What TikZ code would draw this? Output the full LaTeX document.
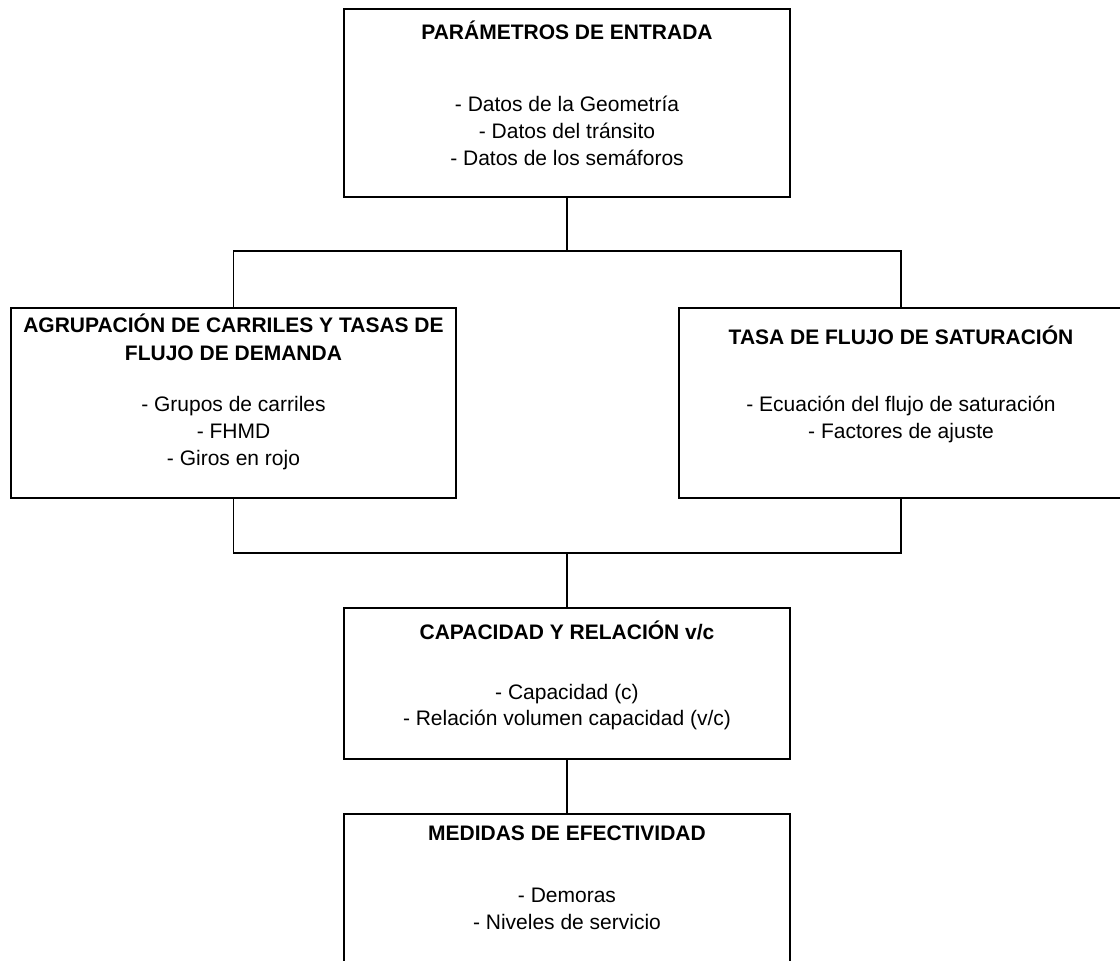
\documentclass[tikz,border=0pt]{standalone}
\usepackage{fontspec}
\setmainfont{Liberation Sans}
\newcommand{\lnstrut}{\rule{0pt}{16pt}}
\begin{document}
\begin{tikzpicture}[x=1pt,y=1pt,
  heavybox/.style={draw=black, line width=2.4pt, rectangle, inner sep=0pt},
  lightbox/.style={draw=black, line width=1.5pt, rectangle, inner sep=0pt},
  boxtitle/.style={font=\bfseries\fontsize{21}{28}\selectfont, align=center, anchor=north, inner sep=0pt},
  boxbody/.style={font=\fontsize{21}{27}\selectfont, align=center, anchor=north, inner sep=0pt},
  boxbodytight/.style={font=\fontsize{21}{26}\selectfont, align=center, anchor=north, inner sep=0pt},
  link/.style={draw=black, line width=1.4pt}]
\useasboundingbox (0,0) rectangle (1120,961);
\clip (0,0) rectangle (1120,961);

% frames
\node[heavybox, minimum width=446, minimum height=188] (entrada) at (567,858) {};
\node[lightbox, minimum width=445, minimum height=190] (agrup) at (233.5,558) {};
\node[lightbox, minimum width=444, minimum height=190] (tasa) at (901,558) {};
\node[heavybox, minimum width=446, minimum height=151] (capac) at (567,277.5) {};
\node[heavybox, minimum width=446, minimum height=152] (medidas) at (567,71) {};

% branching points of the connectors
\coordinate (split) at (567,710);
\coordinate (merge) at (567,408);

% connectors
\draw[link] (entrada.south) -- (split);
\draw[link] (agrup.north) |- (split) -| (tasa.north);
\draw[link] (agrup.south) |- (merge) -| (tasa.south);
\draw[link] (merge) -- (capac.north);
\draw[link] (capac.south) -- (medidas.north);

% texts
\node[boxtitle] (entrada-t) at (567,940.5) {\lnstrut PARÁMETROS DE ENTRADA};
\node[boxbody] (entrada-b) at (567,865.5) {\lnstrut - Datos de la Geometría\\\lnstrut - Datos del tránsito\\\lnstrut - Datos de los semáforos};

\node[boxtitle] (agrup-t) at (233.5,647.5) {\lnstrut AGRUPACIÓN DE CARRILES Y TASAS DE\\\lnstrut FLUJO DE DEMANDA};
\node[boxbody] (agrup-b) at (233.5,565.5) {\lnstrut - Grupos de carriles\\\lnstrut - FHMD\\\lnstrut - Giros en rojo};

\node[boxtitle] (tasa-t) at (901,635.5) {\lnstrut TASA DE FLUJO DE SATURACIÓN};
\node[boxbody] (tasa-b) at (901,565.5) {\lnstrut - Ecuación del flujo de saturación\\\lnstrut - Factores de ajuste};

\node[boxtitle] (capac-t) at (567,340.5) {\lnstrut CAPACIDAD Y RELACIÓN v/c};
\node[boxbodytight] (capac-b) at (567,277.5) {\lnstrut - Capacidad (c)\\\lnstrut - Relación volumen capacidad (v/c)};

\node[boxtitle] (medidas-t) at (567,136.5) {\lnstrut MEDIDAS DE EFECTIVIDAD};
\node[boxbody] (medidas-b) at (567,74.5) {\lnstrut - Demoras\\\lnstrut - Niveles de servicio};
\end{tikzpicture}
\end{document}
